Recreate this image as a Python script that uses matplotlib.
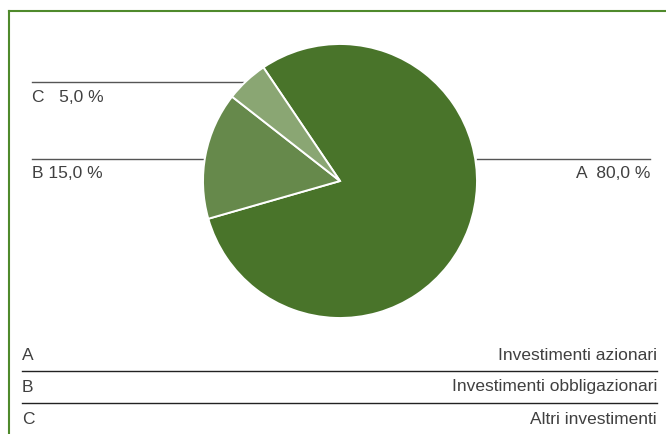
import matplotlib.pyplot as plt

W = 666
H = 434

letters = ["A", "B", "C"]
shares = [80.0, 15.0, 5.0]
descriptions = ["Investimenti azionari", "Investimenti obbligazionari", "Altri investimenti"]
colors = ["#49742a", "#66894b", "#8aa673"]

FRAME_COLOR = "#4f8a2c"
TEXT_COLOR = "#404040"
LINE_COLOR = "#555555"
FS = 12.5

plt.rcParams['font.family'] = ['Liberation Sans', 'DejaVu Sans']

fig = plt.figure(figsize=(W / 100, H / 100), dpi=100)

# overlay in pixel coordinates for frame, labels and legend table
over = fig.add_axes([0, 0, 1, 1])
over.set_xlim(0, W)
over.set_ylim(H, 0)
over.axis("off")

# pie: center (340, 181), radius 137 px
cx, cy, r = 340, 181, 137
ax = fig.add_axes([(cx - r) / W, (H - cy - r) / H, 2 * r / W, 2 * r / H])
ax.pie(shares, colors=colors, startangle=124, counterclock=False,
       wedgeprops={"edgecolor": "white", "linewidth": 1.4})
ax.set_xlim(-1, 1)
ax.set_ylim(-1, 1)
ax.set_aspect("equal")
ax.axis("off")

# frame lines (top and left)
over.plot([9, W], [11, 11], color=FRAME_COLOR, lw=1.5)
over.plot([9, 9], [11, H], color=FRAME_COLOR, lw=1.5)


def fmt(v):
    return "{:.1f} %".format(v).replace(".", ",")


# labels with horizontal leader lines
over.plot([32, 243], [82, 82], color=LINE_COLOR, lw=1)
over.text(32, 97, "{}   {}".format(letters[2], fmt(shares[2])), fontsize=FS,
          color=TEXT_COLOR, va="center", ha="left")
over.plot([32, 203], [159, 159], color=LINE_COLOR, lw=1)
over.text(32, 173, "{} {}".format(letters[1], fmt(shares[1])), fontsize=FS,
          color=TEXT_COLOR, va="center", ha="left")
over.plot([477, 650], [159, 159], color=LINE_COLOR, lw=1)
over.text(650, 173, "{}  {}".format(letters[0], fmt(shares[0])), fontsize=FS,
          color=TEXT_COLOR, va="center", ha="right")

# legend table
row_y = [355, 387, 419]
for i, (letter, desc) in enumerate(zip(letters, descriptions)):
    over.text(22, row_y[i], letter, fontsize=FS, color=TEXT_COLOR, va="center", ha="left")
    over.text(657, row_y[i], desc, fontsize=FS, color=TEXT_COLOR, va="center", ha="right")
    if i < len(letters) - 1:
        over.plot([22, 657], [row_y[i] + 16, row_y[i] + 16], color="#222222", lw=1)

fig.savefig("out.png", dpi=100)
